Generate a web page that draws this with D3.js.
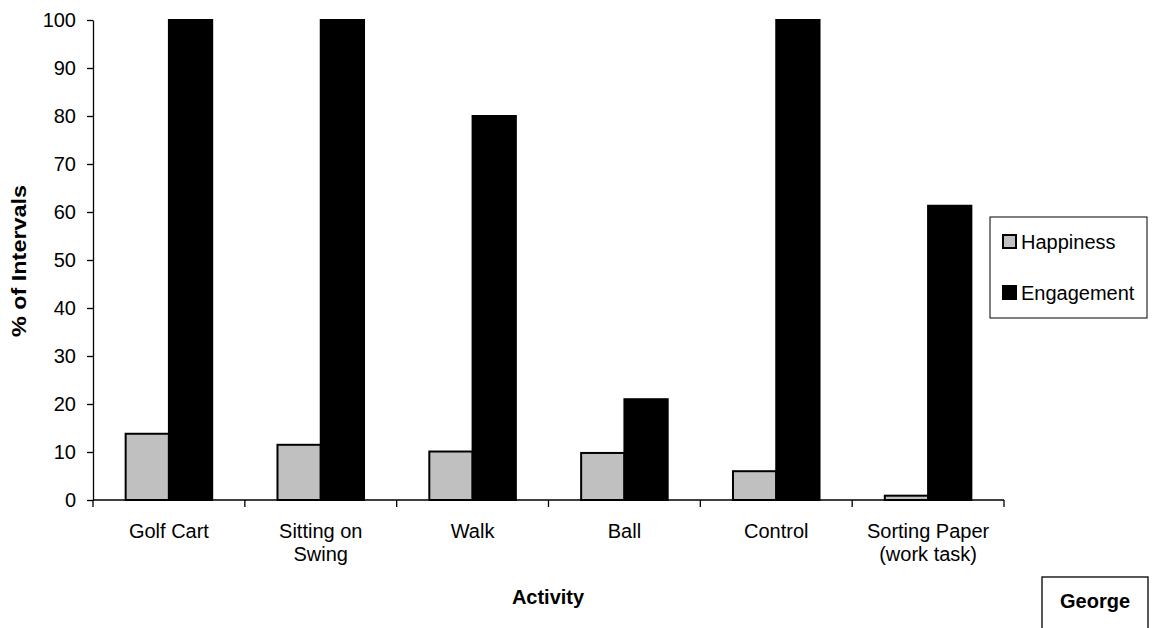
<!DOCTYPE html>
<html>
<head>
<meta charset="utf-8">
<script src="https://cdn.jsdelivr.net/npm/d3@7/dist/d3.min.js"></script>
<style>
  html, body { margin: 0; padding: 0; background: #fff; }
  svg { display: block; }
  text { font-family: "Liberation Sans", Arial, sans-serif; fill: #000; }
</style>
</head>
<body>
<svg id="chart" width="1155" height="628"></svg>
<script>
// Activities on the x axis (line breaks marked with \n)
const categories = ["Golf Cart", "Sitting on\nSwing", "Walk", "Ball", "Control", "Sorting Paper\n(work task)"];
// Percent of intervals for each measure
const happiness  = [13.8, 11.5, 10.1, 9.8, 6.0, 0.9];
const engagement = [100, 100, 80, 21, 100, 61.3];
const seriesNames = ["Happiness", "Engagement"];
const seriesColors = ["#c0c0c0", "#000000"];
const yTicks = [0, 10, 20, 30, 40, 50, 60, 70, 80, 90, 100];

const svg = d3.select("#chart");
const fontSize = 20;

const plot = { left: 93, right: 1004, top: 20, bottom: 500 };

const x = d3.scaleBand()
  .domain(categories)
  .range([plot.left, plot.right])
  .paddingInner(0)
  .paddingOuter(0);

const groupShare = 0.57;
const x1 = d3.scaleBand()
  .domain(seriesNames)
  .range([0, x.bandwidth() * groupShare]);

const y = d3.scaleLinear()
  .domain([0, 100])
  .range([plot.bottom, plot.top]);

// Bars
const rows = categories.map((c, i) => ({ cat: c, values: [happiness[i], engagement[i]] }));
const groups = svg.append("g").selectAll("g")
  .data(rows)
  .join("g")
  .attr("transform", d => `translate(${x(d.cat) + x.bandwidth() * (1 - groupShare) / 2},0)`);

groups.selectAll("rect")
  .data(d => d.values.map((v, k) => ({ name: seriesNames[k], v, k })))
  .join("rect")
  .attr("x", d => x1(d.name))
  .attr("width", x1.bandwidth())
  .attr("y", d => y(d.v))
  .attr("height", d => y(0) - y(d.v))
  .attr("fill", d => seriesColors[d.k])
  .attr("stroke", "#000")
  .attr("stroke-width", 2);

// Y axis
const yAxis = svg.append("g")
  .attr("transform", `translate(${plot.left},0)`)
  .call(d3.axisLeft(y).tickValues(yTicks).tickSize(6).tickSizeOuter(0).tickPadding(11));
yAxis.select(".domain").attr("stroke", "#000").attr("stroke-width", 1.3);
yAxis.selectAll(".tick line").attr("stroke", "#000").attr("stroke-width", 1.3);
yAxis.selectAll(".tick text")
  .attr("font-size", fontSize)
  .attr("font-family", "Liberation Sans, Arial, sans-serif")
  .attr("fill", "#000");

// X axis: baseline with ticks at category boundaries
const xAxisG = svg.append("g");
xAxisG.append("line")
  .attr("x1", plot.left).attr("x2", plot.right)
  .attr("y1", y(0)).attr("y2", y(0))
  .attr("stroke", "#000").attr("stroke-width", 1.3);
const boundaries = categories.map(c => x(c)).concat([x(categories[categories.length - 1]) + x.bandwidth()]);
xAxisG.selectAll("line.tick")
  .data(boundaries)
  .join("line")
  .attr("class", "tick")
  .attr("x1", d => d).attr("x2", d => d)
  .attr("y1", y(0)).attr("y2", y(0) + 7)
  .attr("stroke", "#000").attr("stroke-width", 1.3);

// Category labels
const labels = xAxisG.selectAll("text.cat")
  .data(categories)
  .join("text")
  .attr("class", "cat")
  .attr("text-anchor", "middle")
  .attr("font-size", fontSize)
  .attr("transform", d => `translate(${x(d) + x.bandwidth() / 2},538)`);
labels.selectAll("tspan")
  .data(d => d.split("\n"))
  .join("tspan")
  .attr("x", 0)
  .attr("dy", (d, i) => i === 0 ? 0 : 23)
  .text(d => d);

// Axis titles
svg.append("text")
  .attr("x", 548).attr("y", 604)
  .attr("text-anchor", "middle")
  .attr("font-size", fontSize)
  .attr("font-weight", "bold")
  .text("Activity");

svg.append("text")
  .attr("transform", "translate(26,261) rotate(-90)")
  .attr("text-anchor", "middle")
  .attr("font-size", 21)
  .attr("font-weight", "bold")
  .attr("textLength", 152)
  .attr("lengthAdjust", "spacingAndGlyphs")
  .text("% of Intervals");

// Legend
const legend = svg.append("g");
legend.append("rect")
  .attr("x", 990).attr("y", 217).attr("width", 157).attr("height", 101)
  .attr("fill", "#fff").attr("stroke", "#000").attr("stroke-width", 1);
const legendRows = [{ y: 234 }, { y: 285 }];
seriesNames.forEach((name, i) => {
  legend.append("rect")
    .attr("x", 1003).attr("y", legendRows[i].y + 1)
    .attr("width", 13).attr("height", 13)
    .attr("fill", seriesColors[i])
    .attr("stroke", "#000").attr("stroke-width", 2);
  legend.append("text")
    .attr("x", 1021).attr("y", legendRows[i].y + 15)
    .attr("font-size", fontSize)
    .text(name);
});

// Subject name box
svg.append("rect")
  .attr("x", 1042).attr("y", 577).attr("width", 106).attr("height", 70)
  .attr("fill", "#fff").attr("stroke", "#000").attr("stroke-width", 1.3);
svg.append("text")
  .attr("x", 1095).attr("y", 608)
  .attr("text-anchor", "middle")
  .attr("font-size", fontSize)
  .attr("font-weight", "bold")
  .text("George");
</script>
</body>
</html>
